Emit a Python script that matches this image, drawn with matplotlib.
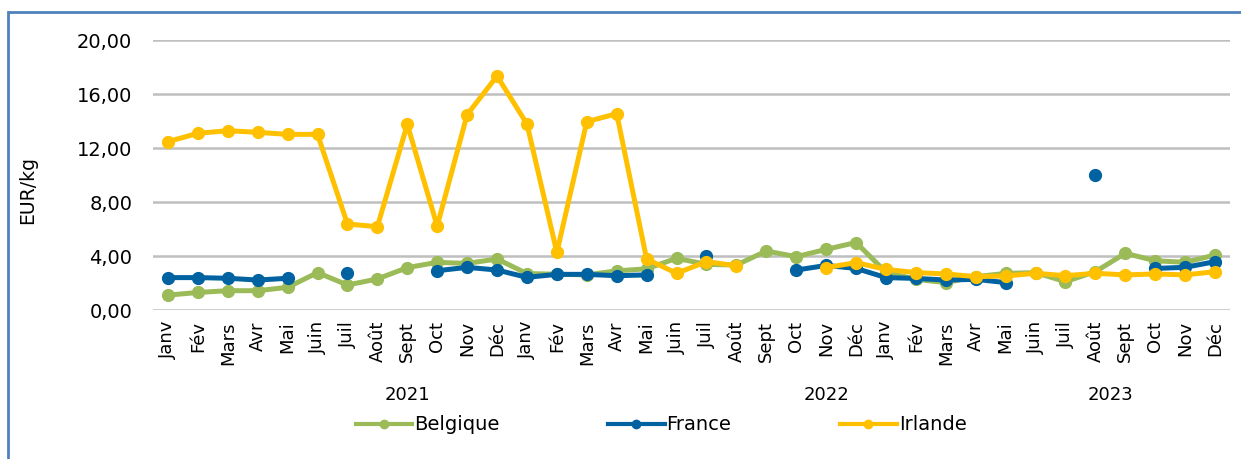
import numpy as np
import matplotlib
matplotlib.use('Agg')
import matplotlib.pyplot as plt
from matplotlib.patches import Rectangle
from matplotlib.lines import Line2D

nan = np.nan

months = ['Janv', 'Fév', 'Mars', 'Avr', 'Mai', 'Juin',
          'Juil', 'Août', 'Sept', 'Oct', 'Nov', 'Déc'] * 3
years = ['2021', '2022', '2023']
year_pos = [8.0, 22.0, 31.5]

belgique = [1.1, 1.3, 1.43, 1.43, 1.68, 2.77, 1.85, 2.3, 3.14, 3.53, 3.45, 3.78,
            2.7, 2.65, 2.6, 2.9, 3.05, 3.83, 3.38, 3.33, 4.37, 3.95, 4.49, 5.0,
            2.8, 2.27, 2.03, 2.47, 2.71, 2.77, 2.1, 2.84, 4.2, 3.65, 3.53, 4.07]

france = [2.4, 2.4, 2.35, 2.22, 2.35, nan, 2.72, nan, nan, 2.91, 3.16, 2.96,
          2.42, 2.64, 2.64, 2.54, 2.6, nan, 4.03, nan, nan, 2.96, 3.3, 3.08,
          2.4, 2.34, 2.22, 2.27, 2.03, nan, nan, 10.0, nan, 3.08, 3.16, 3.58]

irlande = [12.47, 13.09, 13.28, 13.16, 13.01, 13.01, 6.37, 6.17, 13.75, 6.22, 14.47, 17.33,
           13.78, 4.27, 13.95, 14.54, 3.78, 2.72, 3.58, 3.28, nan, nan, 3.14, 3.51,
           3.01, 2.77, 2.67, 2.47, 2.52, 2.72, 2.54, 2.72, 2.6, 2.67, 2.6, 2.84]

series = [('Belgique', belgique, '#9BBB59'),
          ('France', france, '#0062A0'),
          ('Irlande', irlande, '#FFC000')]

fig = plt.figure(figsize=(12.41, 4.59), dpi=100)
ax = fig.add_axes([153 / 1241, 1 - 310 / 459, (1230 - 153) / 1241, 270 / 459])

x = np.arange(len(months))
handles = []
for name, vals, col in series:
    ax.plot(x, vals, color=col, lw=3.6, marker='o', ms=8.5)
    handles.append(Line2D([], [], color=col, lw=3, marker='o', ms=6, label=name))

ax.set_xlim(-0.5, len(months) - 0.5)
ax.set_ylim(0, 20)
ax.set_yticks(np.arange(0, 21, 4))
ax.set_yticklabels(['{:.2f}'.format(v).replace('.', ',') for v in np.arange(0, 21, 4)])
ax.set_xticks(x)
ax.set_xticklabels(months, rotation=90, fontsize=13)
ax.tick_params(axis='x', length=0, pad=8)
ax.tick_params(axis='y', length=0, pad=15, labelsize=14)
ax.grid(axis='y', color='#BFBFBF', lw=1.8)
ax.set_axisbelow(True)
for s in ax.spines.values():
    s.set_visible(False)

for yr, p in zip(years, year_pos):
    ax.text(p, -0.315, yr, transform=ax.get_xaxis_transform(),
            ha='center', va='center', fontsize=13)

fig.text(28 / 1241, 1 - 190 / 459, 'EUR/kg', rotation=90, ha='center',
         va='center', fontsize=13.5)

fig.legend(handles=handles, loc='center', bbox_to_anchor=(661 / 1241, 1 - 425 / 459),
           ncol=3, frameon=False, fontsize=14, handlelength=2.9,
           handletextpad=0.1, columnspacing=5.6)

fig.add_artist(Rectangle((8 / 1241, -0.1), 2, 1.1 - 12.5 / 459,
                         transform=fig.transFigure, fill=False,
                         edgecolor='#4F81BD', lw=2))

fig.savefig('out.png', dpi=100)
